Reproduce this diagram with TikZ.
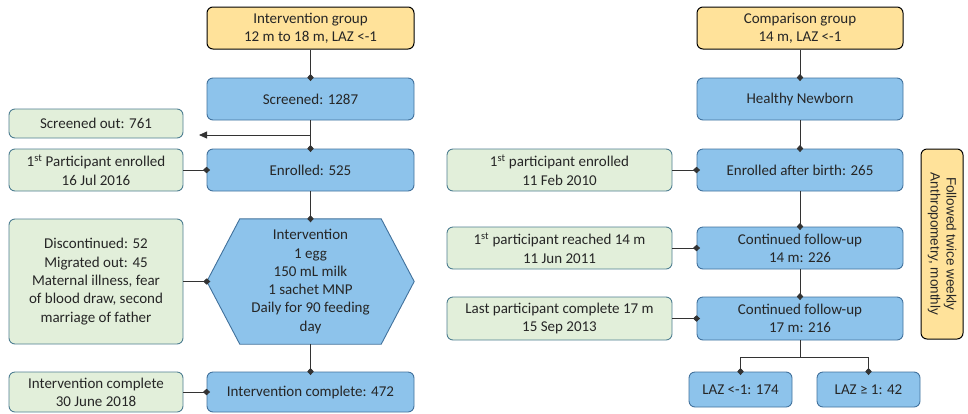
\documentclass[tikz,border=0pt]{standalone}
\usepackage{fontspec}
\setmainfont{Carlito}
\newfontfamily\arialfont{Liberation Sans}
\usetikzlibrary{arrows.meta,backgrounds}
\definecolor{boxblue}{HTML}{8DC3EB}
\definecolor{edgeblue}{HTML}{41719C}
\definecolor{boxgreen}{HTML}{E2EFDA}
\definecolor{edgegreen}{HTML}{4E7E91}
\definecolor{boxyellow}{HTML}{FFE29A}
\begin{document}
\begin{tikzpicture}[x=1pt, y=-1pt,
  every node/.style={font=\fontsize{15}{18.3}\selectfont, align=center, inner sep=2pt, text=black!85},
  bluebox/.style={draw=edgeblue, fill=boxblue, rounded corners=6pt, line width=0.9pt, minimum width=207pt, minimum height=42pt},
  greenbox/.style={draw=edgegreen, fill=boxgreen, rounded corners=6pt, line width=0.9pt, minimum width=174pt, minimum height=42pt},
  groupbox/.style={draw=black, fill=boxyellow, rounded corners=6pt, line width=1pt, minimum width=207pt, minimum height=42pt},
  link/.style={draw=black!80, line width=0.8pt},
  diam/.style={link, -{Diamond[length=7pt,width=6.5pt]}, shorten >=-3.5pt}]
  \useasboundingbox (0,0) rectangle (968,413);

  \node[groupbox] (igroup) at (310.5,28) {Intervention group\\12 m to 18 m, LAZ <-1};
  \node[bluebox] (screened) at (310.5,99) {Screened: 1287};
  \node[bluebox] (enrolled) at (310.5,170) {Enrolled: 525};
  \node[minimum width=207pt, minimum height=125pt] (interv) at (310.5,281.5)
    {Intervention\\1 egg\\150 mL milk\\1 sachet MNP\\Daily for 90 feeding\\day};
  \begin{scope}[on background layer]
    \draw[draw=edgeblue, fill=boxblue, line width=0.9pt]
      ([xshift=33pt]interv.north west) -- ([xshift=-33pt]interv.north east) -- (interv.east)
      -- ([xshift=-33pt]interv.south east) -- ([xshift=33pt]interv.south west) -- (interv.west) -- cycle;
  \end{scope}
  \node[bluebox, minimum height=40pt] (icomplete) at (310.5,392) {Intervention complete: 472};

  \node[greenbox, minimum height=29pt] (scrout) at (96,123.5) {Screened out: 761};
  \node[greenbox] (ifirst) at (96,170) {1\textsuperscript{st} Participant enrolled\\16 Jul 2016};
  \node[greenbox, minimum height=125pt] (discont) at (96,281.5)
    {Discontinued: 52\\Migrated out: 45\\Maternal illness, fear\\of blood draw, second\\marriage of father};
  \node[greenbox, minimum height=40pt] (idate) at (96,392) {Intervention complete\\30 June 2018};

  \coordinate (scrsplit) at (310.5,135);
  \coordinate (scrtip) at (199,135);

  \draw[diam] (igroup) -- (screened);
  \draw[diam] (screened) -- (enrolled);
  \draw[link, -{Triangle[length=8pt,width=7pt]}] (scrsplit) -- (scrtip);
  \draw[diam] (enrolled) -- (interv);
  \draw[diam] (interv) -- (icomplete);
  \draw[diam] (ifirst) -- (enrolled);
  \draw[diam] (discont.east) -- (interv.west);
  \draw[diam] (idate) -- (icomplete);

  \node[groupbox, minimum width=206pt] (cgroup) at (800,28) {Comparison group\\14 m, LAZ <-1};
  \node[bluebox, minimum width=206pt] (newborn) at (800,99) {Healthy Newborn};
  \node[bluebox, minimum width=206pt] (enrbirth) at (800,170) {Enrolled after birth: 265};
  \node[bluebox, minimum width=206pt] (fu14) at (800,248) {Continued follow-up\\14 m: 226};
  \node[bluebox, minimum width=206pt, minimum height=43pt] (fu17) at (800,318.5) {Continued follow-up\\17 m: 216};
  \node[bluebox, minimum width=103pt, minimum height=35pt] (lazlow) at (740.5,389.5) {LAZ <-1: 174};
  \node[bluebox, minimum width=103pt, minimum height=35pt] (lazhigh) at (868.5,389.5) {LAZ ≥ 1: 42};

  \node[greenbox, minimum width=225pt] (cfirst) at (559.5,170) {1\textsuperscript{st} participant enrolled\\11 Feb 2010};
  \node[greenbox, minimum width=225pt] (creach) at (559.5,248) {1\textsuperscript{st} participant reached 14 m\\11 Jun 2011};
  \node[greenbox, minimum width=225pt, minimum height=43pt] (clast) at (559.5,318.5) {Last participant complete 17 m\\15 Sep 2013};

  \node[groupbox, rotate=-90, minimum width=190pt, minimum height=42pt,
    font=\arialfont\fontsize{13.5}{16}\selectfont] (followed) at (942,244)
    {Followed twice weekly\\Anthropometry, monthly};

  \coordinate (branch) at (800,357);

  \draw[diam] (cgroup) -- (newborn);
  \draw[diam] (newborn) -- (enrbirth);
  \draw[diam] (enrbirth) -- (fu14);
  \draw[diam] (fu14) -- (fu17);
  \draw[link] (fu17) -- (branch);
  \draw[diam] (branch) -| (lazlow.north);
  \draw[diam] (branch) -| (lazhigh.north);
  \draw[diam] (cfirst) -- (enrbirth);
  \draw[diam] (creach) -- (fu14);
  \draw[diam] (clast) -- (fu17);
\end{tikzpicture}
\end{document}
